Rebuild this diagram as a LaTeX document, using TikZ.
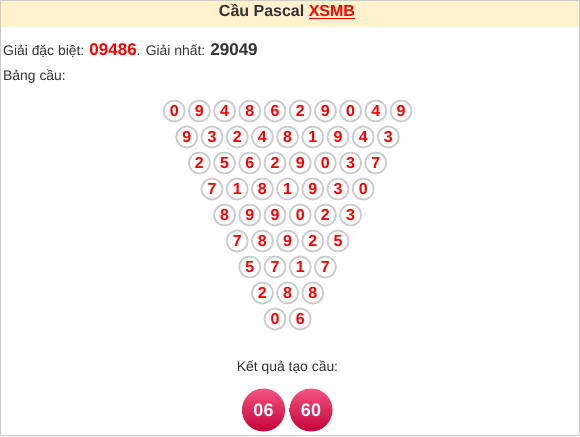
\documentclass[tikz,border=0pt]{standalone}
\usepackage{fontspec}
\setmainfont{Liberation Sans}
\definecolor{hdr}{HTML}{FFF2CC}
\definecolor{txt}{HTML}{333333}
\definecolor{ring}{HTML}{CCCCCC}
\definecolor{redd}{HTML}{FF0000}
\definecolor{balltop}{HTML}{F2557F}
\definecolor{ballbot}{HTML}{C4003A}
\begin{document}
\begin{tikzpicture}[x=1pt,y=-1pt,
  cell/.style={circle,draw=ring,line width=1.8pt,fill=white,minimum size=21pt,inner sep=0pt,
    text=redd,font=\fontsize{16}{16}\selectfont\bfseries},
  ball/.style={circle,minimum size=43pt,inner sep=0pt,top color=balltop,bottom color=ballbot,
    text=white,font=\fontsize{18}{18}\selectfont\bfseries},
  lbl/.style={inner sep=0pt,text=txt,font=\fontsize{13.9}{13.9}\selectfont}]
\useasboundingbox (0,0) rectangle (580,436);
\fill[hdr] (0,0) rectangle (580,27);
\draw[ring,line width=1pt] (0.5,0.5) rectangle (579.5,435.5);
\node[anchor=base,inner sep=0pt,text=txt,font=\fontsize{16}{16}\selectfont\bfseries] (title) at (287,17)
  {Cầu Pascal \textcolor{redd}{\underline{XSMB}}};
\node[lbl,anchor=base west] (gdb) at (3,56)
  {Giải đặc biệt: \textcolor{redd}{\fontsize{17}{17}\selectfont\bfseries 09486}. Giải nhất: {\fontsize{17}{17}\selectfont\bfseries 29049}};
\node[lbl,anchor=base west] (bang) at (3,80) {Bảng cầu:};
\foreach \r/\digits in {1/{0,9,4,8,6,2,9,0,4,9},2/{9,3,2,4,8,1,9,4,3},3/{2,5,6,2,9,0,3,7},
  4/{7,1,8,1,9,3,0},5/{8,9,9,0,2,3},6/{7,8,9,2,5},7/{5,7,1,7},8/{2,8,8},9/{0,6}}{
  \pgfmathsetmacro{\n}{11-\r}
  \foreach \d [count=\i] in \digits {
    \node[cell] (c-\r-\i) at ({287.6+(\i-(\n+1)/2)*25.2},{111+(\r-1)*26}) {\d};
  }
}
\node[lbl,anchor=base] (kq) at (287.5,371) {Kết quả tạo cầu:};
\node[ball] (b1) at (263.5,410) {06};
\node[ball] (b2) at (311,410) {60};
\end{tikzpicture}
\end{document}
